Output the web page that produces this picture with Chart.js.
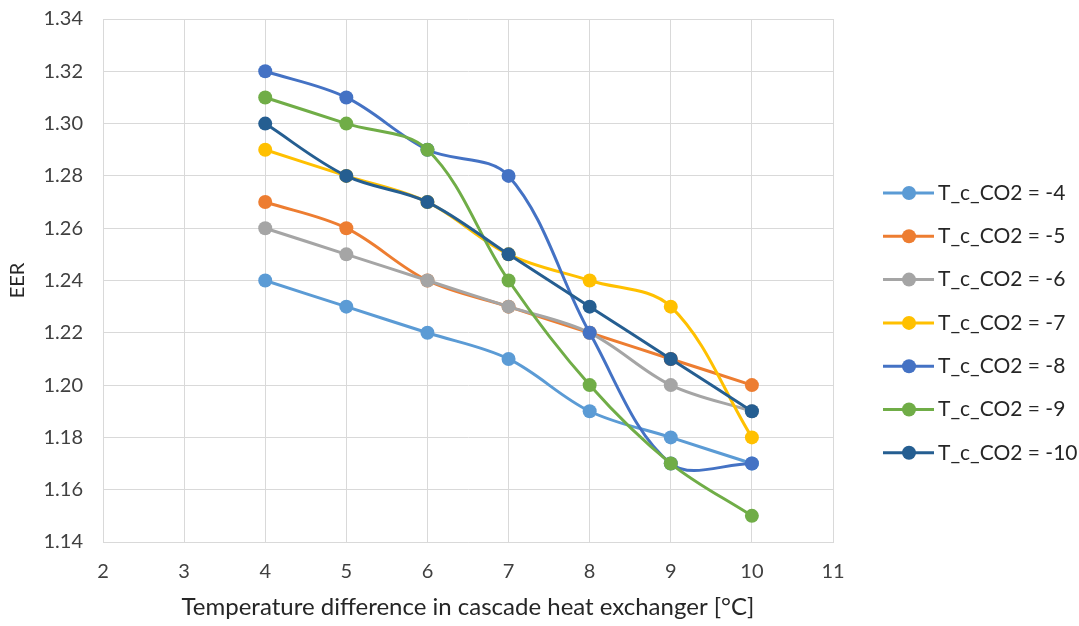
<!DOCTYPE html>
<html>

<head>
  <meta charset="utf-8">
  <title>EER vs temperature difference</title>
  <script src="https://cdn.jsdelivr.net/npm/chart.js@4"></script>
  <style>
    html,
    body {
      margin: 0;
      padding: 0;
      background: #fff;
    }

    #wrap {
      position: relative;
      width: 1079px;
      height: 626px;
    }
  </style>
</head>

<body>
  <div id="wrap"><canvas id="chart"></canvas></div>
  <script>
    // temperature difference [°C]
    var dT = [4, 5, 6, 7, 8, 9, 10];

    var seriesNames = ['T_c_CO2 = -4', 'T_c_CO2 = -5', 'T_c_CO2 = -6', 'T_c_CO2 = -7',
      'T_c_CO2 = -8', 'T_c_CO2 = -9', 'T_c_CO2 = -10'];

    var eerM4 = [1.24, 1.23, 1.22, 1.21, 1.19, 1.18, 1.17];
    var eerM5 = [1.27, 1.26, 1.24, 1.23, 1.22, 1.21, 1.20];
    var eerM6 = [1.26, 1.25, 1.24, 1.23, 1.22, 1.20, 1.19];
    var eerM7 = [1.29, 1.28, 1.27, 1.25, 1.24, 1.23, 1.18];
    var eerM8 = [1.32, 1.31, 1.29, 1.28, 1.22, 1.17, 1.17];
    var eerM9 = [1.31, 1.30, 1.29, 1.24, 1.20, 1.17, 1.15];
    var eerM10 = [1.30, 1.28, 1.27, 1.25, 1.23, 1.21, 1.19];

    var allSeries = [eerM4, eerM5, eerM6, eerM7, eerM8, eerM9, eerM10];
    var colors = ['#5B9BD5', '#ED7D31', '#A5A5A5', '#FFC000', '#4472C4', '#70AD47', '#255E91'];

    var FONT = 'Lato, "Open Sans", sans-serif';

    var datasets = allSeries.map(function(vals, i) {
      return {
        label: seriesNames[i],
        data: vals.map(function(v, j) { return { x: dT[j], y: v } }),
        borderColor: colors[i],
        backgroundColor: colors[i],
        borderWidth: 3,
        pointRadius: 7,
        pointHoverRadius: 7,
        pointBorderWidth: 0,
        tension: 0.35,
        fill: false,
        order: allSeries.length - i // last series on top, like the original
      }
    });

    // legend on the right, line with marker like the spreadsheet one
    var sideLegend = {
      id: 'sideLegend',
      afterDraw: function(chart) {
        var ctx = chart.ctx;
        ctx.save();
        chart.data.datasets.forEach(function(ds, i) {
          var y = 193 + i * 43.3;
          ctx.strokeStyle = ds.borderColor;
          ctx.lineWidth = 3;
          ctx.beginPath();
          ctx.moveTo(883, y);
          ctx.lineTo(934, y);
          ctx.stroke();
          ctx.fillStyle = ds.borderColor;
          ctx.beginPath();
          ctx.arc(909, y, 7, 0, Math.PI * 2);
          ctx.fill();
          ctx.fillStyle = '#262626';
          ctx.font = '21px ' + FONT;
          ctx.textAlign = 'left';
          ctx.textBaseline = 'middle';
          ctx.fillText(ds.label, 938, y);
        });
        ctx.restore();
      }
    };

    new Chart(document.getElementById('chart'), {
      type: 'line',
      data: { datasets: datasets },
      plugins: [sideLegend],
      options: {
        responsive: true,
        maintainAspectRatio: false,
        animation: false,
        layout: { padding: { top: 19, right: 246, left: 0, bottom: 0 } },
        plugins: {
          legend: { display: false },
          tooltip: { enabled: false }
        },
        scales: {
          x: {
            type: 'linear',
            min: 2,
            max: 11,
            ticks: { stepSize: 1, color: '#404040', font: { family: FONT, size: 20 }, padding: 18 },
            grid: { color: '#D9D9D9', lineWidth: 1, drawTicks: false },
            border: { color: '#D9D9D9' },
            title: {
              display: true,
              text: 'Temperature difference in cascade heat exchanger [°C]',
              color: '#262626',
              font: { family: FONT, size: 24 },
              padding: { top: 4 }
            },
            afterFit: function(scale) {
              scale.height = 84;
              scale.paddingLeft = 0;
              scale.paddingRight = 0;
            }
          },
          y: {
            min: 1.14,
            max: 1.34,
            ticks: {
              stepSize: 0.02,
              color: '#404040',
              font: { family: FONT, size: 20 },
              padding: 20,
              callback: function(v) { return v.toFixed(2); }
            },
            grid: { color: '#D9D9D9', lineWidth: 1, drawTicks: false },
            border: { color: '#D9D9D9' },
            title: {
              display: true,
              text: 'EER',
              color: '#262626',
              font: { family: FONT, size: 20 },
              padding: { top: 6 }
            },
            afterFit: function(scale) {
              scale.width = 103;
              scale.paddingTop = 0;
              scale.paddingBottom = 0;
            }
          }
        }
      }
    });
  </script>
</body>

</html>
